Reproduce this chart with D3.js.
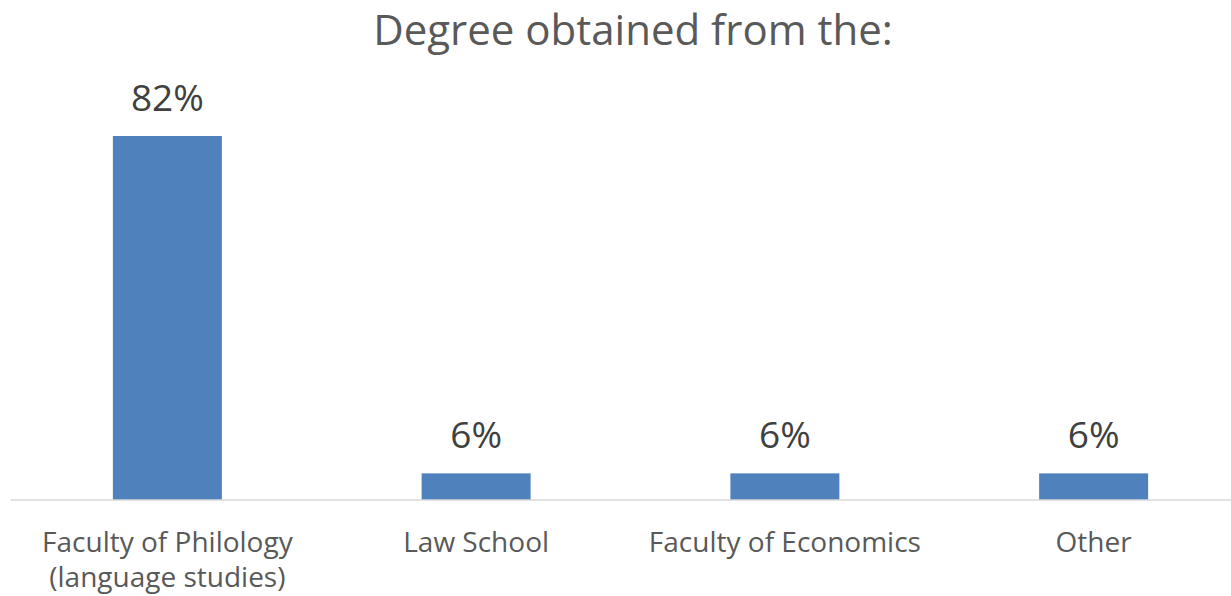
<!DOCTYPE html>
<html>
<head>
<meta charset="utf-8">
<script src="https://cdn.jsdelivr.net/npm/d3@7"></script>
<style>
  html, body { margin: 0; padding: 0; background: #fff; }
  svg { display: block; }
  text { font-family: "Open Sans", "Noto Sans", sans-serif; }
</style>
</head>
<body>
<svg id="chart" width="1231" height="596"></svg>
<script>
// Share of respondents by the faculty their degree came from
const categories = [
  ["Faculty of Philology", "(language studies)"],
  ["Law School"],
  ["Faculty of Economics"],
  ["Other"]
];
const values = [82, 6, 6, 6];
const chartTitle = "Degree obtained from the:";

const W = 1231, H = 596;
const svg = d3.select("#chart");

// Plot area runs slightly past the right edge, so the last column sits near the border
const x = d3.scaleBand()
  .domain(d3.range(categories.length))
  .range([13, 1248])
  .paddingInner(0.647)
  .paddingOuter(0.3235);

const y = d3.scaleLinear()
  .domain([0, 90])
  .range([500, 100.5]);

// Title
svg.append("text")
  .attr("x", 633)
  .attr("y", 45)
  .attr("text-anchor", "middle")
  .attr("fill", "#595959")
  .attr("font-size", 42)
  .text(chartTitle);

// Bars
svg.append("g")
  .selectAll("rect")
  .data(values)
  .join("rect")
  .attr("x", (d, i) => x(i))
  .attr("y", d => y(d))
  .attr("width", x.bandwidth())
  .attr("height", d => y(0) - y(d))
  .attr("fill", "#4F81BD");

// Baseline
const axis = d3.axisBottom(x).tickSize(0).tickFormat("");
const gAxis = svg.append("g")
  .attr("transform", `translate(0,${y(0)})`)
  .call(axis);
gAxis.select(".domain").attr("stroke", "#D9D9D9").attr("stroke-width", 1.5)
  .attr("d", `M11,0H${W}`);

// Value labels above the bars
svg.append("g")
  .selectAll("text")
  .data(values)
  .join("text")
  .attr("x", (d, i) => x(i) + x.bandwidth() / 2)
  .attr("y", d => y(d) - 25)
  .attr("text-anchor", "middle")
  .attr("fill", "#404040")
  .attr("font-size", 37)
  .text(d => d + "%");

// Category labels, wrapped onto lines
const cat = svg.append("g")
  .selectAll("text")
  .data(categories)
  .join("text")
  .attr("x", (d, i) => x(i) + x.bandwidth() / 2)
  .attr("y", 552)
  .attr("text-anchor", "middle")
  .attr("fill", "#595959")
  .attr("font-size", 28);
cat.selectAll("tspan")
  .data(d => d)
  .join("tspan")
  .attr("x", function () { return d3.select(this.parentNode).attr("x"); })
  .attr("dy", (d, i) => i === 0 ? 0 : 35)
  .text(d => d);
</script>
</body>
</html>
